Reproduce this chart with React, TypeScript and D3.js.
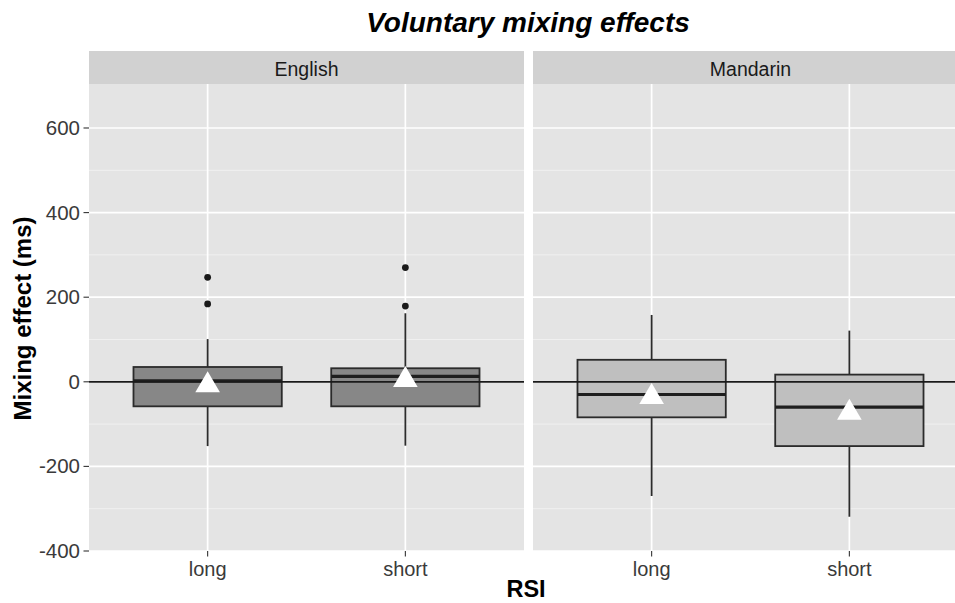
import React from "react";
import * as d3 from "d3";

const titleText = "Voluntary mixing effects";
const languages = ["English", "Mandarin"];
const rsiLevels = ["long", "short"];
const yTicks = [-400, -200, 0, 200, 400, 600];
const yMinor = [-300, -100, 100, 300, 500];

// per panel, per RSI level (long, short)
const whiskerLow = [[-152, -151], [-270, -319]];
const q1 = [[-58, -58], [-84, -152]];
const median = [[2, 13], [-30, -60]];
const q3 = [[35, 32], [52, 17]];
const whiskerHigh = [[101, 162], [158, 121]];
const means = [[-8, 4], [-36, -73]];
const outliers = [[[184, 247], [179, 270]], [[], []]];
const boxFills = ["#878787", "#bfbfbf"];

const W = 955;
const H = 603;
const panelTop = 84;
const panelBottom = 551;
const stripTop = 51;
const panelWidth = 435;
const panelLefts = [89, 533];
const font = "'Liberation Sans', Arial, Helvetica, sans-serif";

export default function App() {
  const y = d3.scaleLinear().domain([-400, 704]).range([panelBottom, panelTop]);
  const triR = 14;

  return (
    <div style={{ position: "absolute", left: 0, top: 0 }}>
      <svg width={W} height={H} style={{ display: "block", background: "#fff" }} fontFamily={font}>
        <text x={528} y={32} textAnchor="middle" fontSize={28} fontWeight="bold" fontStyle="italic" fill="#000">
          {titleText}
        </text>
        {languages.map((lang, p) => {
          const x0 = panelLefts[p];
          const x = d3.scalePoint<string>().domain(rsiLevels).range([x0, x0 + panelWidth]).padding(0.6);
          const step = x.step();
          const bw = step * 0.75;
          return (
            <g key={lang}>
              <rect x={x0} y={stripTop} width={panelWidth} height={panelTop - stripTop} fill="#d1d1d1" />
              <text x={x0 + panelWidth / 2} y={75.5} textAnchor="middle" fontSize={19.5} fill="#1a1a1a">
                {lang}
              </text>
              <rect x={x0} y={panelTop} width={panelWidth} height={panelBottom - panelTop} fill="#e4e4e4" />
              {yMinor.map((v) => (
                <line key={"mn" + v} x1={x0} x2={x0 + panelWidth} y1={y(v)} y2={y(v)} stroke="#f2f2f2" strokeWidth={0.9} />
              ))}
              {yTicks.map((v) => (
                <line key={"mj" + v} x1={x0} x2={x0 + panelWidth} y1={y(v)} y2={y(v)} stroke="#fff" strokeWidth={1.7} />
              ))}
              {rsiLevels.map((r) => (
                <line key={"vx" + r} x1={x(r)!} x2={x(r)!} y1={panelTop} y2={panelBottom} stroke="#fff" strokeWidth={1.7} />
              ))}
              {rsiLevels.map((r, i) => {
                const cx = x(r)!;
                return (
                  <g key={"box" + r}>
                    <line x1={cx} x2={cx} y1={y(whiskerHigh[p][i])} y2={y(q3[p][i])} stroke="#2b2b2b" strokeWidth={1.8} />
                    <line x1={cx} x2={cx} y1={y(q1[p][i])} y2={y(whiskerLow[p][i])} stroke="#2b2b2b" strokeWidth={1.8} />
                    <rect
                      x={cx - bw / 2}
                      y={y(q3[p][i])}
                      width={bw}
                      height={y(q1[p][i]) - y(q3[p][i])}
                      fill={boxFills[p]}
                      stroke="#2b2b2b"
                      strokeWidth={1.8}
                    />
                    <line x1={cx - bw / 2} x2={cx + bw / 2} y1={y(median[p][i])} y2={y(median[p][i])} stroke="#1e1e1e" strokeWidth={3.2} />
                    {outliers[p][i].map((o, k) => (
                      <circle key={k} cx={cx} cy={y(o)} r={3.4} fill="#1a1a1a" />
                    ))}
                  </g>
                );
              })}
              <line x1={x0} x2={x0 + panelWidth} y1={y(0)} y2={y(0)} stroke="#1a1a1a" strokeWidth={1.7} />
              {rsiLevels.map((r, i) => {
                const cx = x(r)!;
                const cy = y(means[p][i]);
                const hw = triR * 0.88;
                const pts = `${cx},${cy - triR} ${cx + hw},${cy + triR / 2} ${cx - hw},${cy + triR / 2}`;
                return <polygon key={"m" + r} points={pts} fill="#fff" />;
              })}
              {rsiLevels.map((r) => (
                <g key={"xt" + r}>
                  <line x1={x(r)!} x2={x(r)!} y1={panelBottom} y2={panelBottom + 5.5} stroke="#333" strokeWidth={1.1} />
                  <text x={x(r)!} y={576} textAnchor="middle" fontSize={20} fill="#3a3a3a">
                    {r}
                  </text>
                </g>
              ))}
            </g>
          );
        })}
        {yTicks.map((v) => (
          <g key={"yt" + v}>
            <line x1={83.5} x2={89} y1={y(v)} y2={y(v)} stroke="#333" strokeWidth={1.1} />
            <text x={80} y={y(v) + 7} textAnchor="end" fontSize={20.5} fill="#3a3a3a">
              {v}
            </text>
          </g>
        ))}
        <text
          transform={`translate(31,318.5) rotate(-90)`}
          textAnchor="middle"
          fontSize={24}
          fontWeight="bold"
          fill="#000"
        >
          Mixing effect (ms)
        </text>
        <text x={526} y={597} textAnchor="middle" fontSize={23.5} fontWeight="bold" fill="#000">
          RSI
        </text>
      </svg>
    </div>
  );
}
